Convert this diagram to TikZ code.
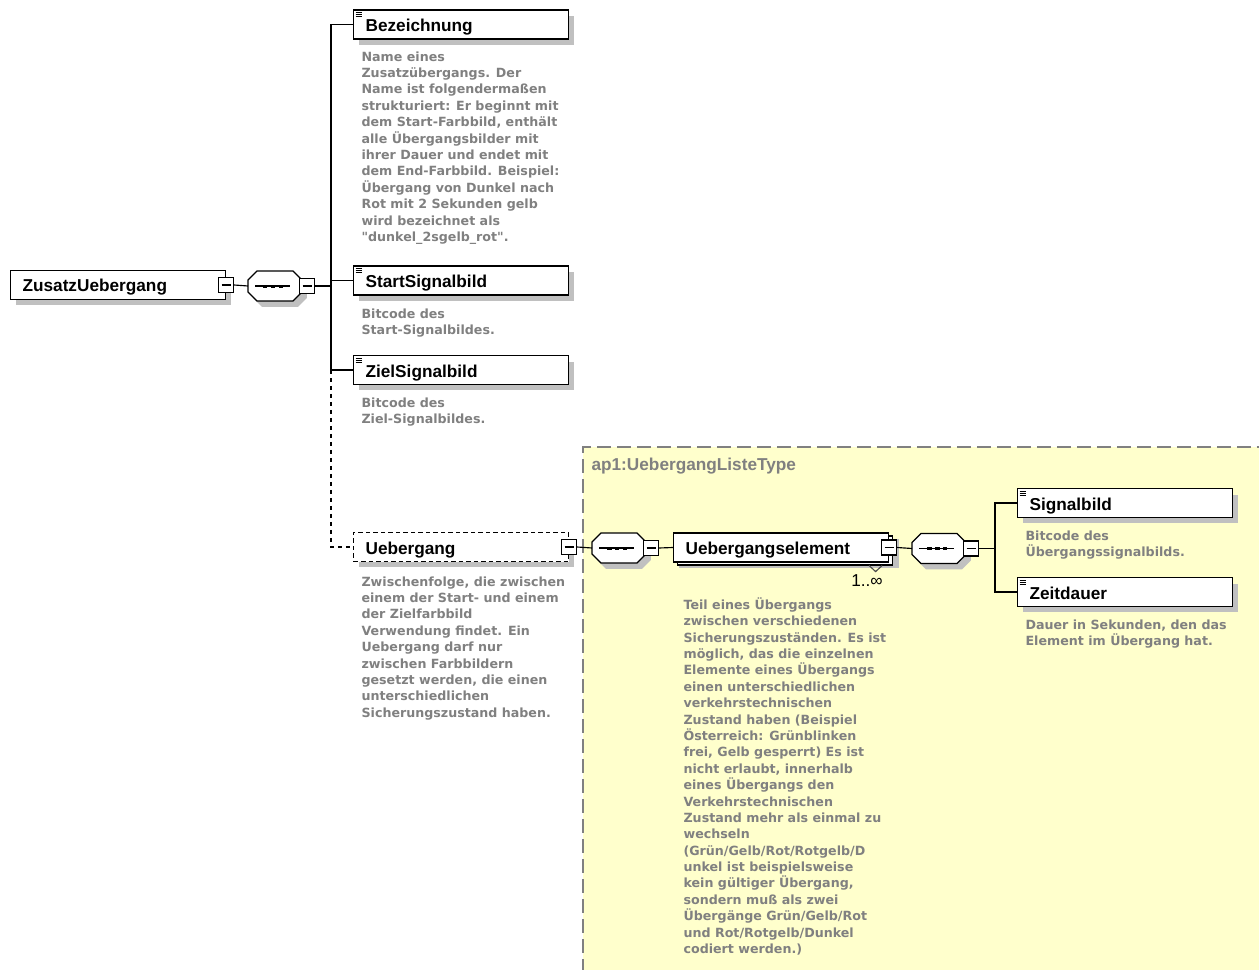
\documentclass[tikz,border=0pt]{standalone}
\usepackage{fontspec}
\usetikzlibrary{shadows}
\newfontfamily\hdfont{Liberation Sans}
\newfontfamily\docfont{DejaVu Sans}
\definecolor{docgray}{RGB}{128,128,128}
\definecolor{shadegray}{RGB}{192,192,192}
\definecolor{typeyellow}{RGB}{255,255,204}
\newcommand\octpath[3]{([xshift=#2+0.18cm,yshift=#3]#1.north west) -- ([xshift=#2-0.18cm,yshift=#3]#1.north east)
  -- ([xshift=#2,yshift=#3-0.18cm]#1.north east) -- ([xshift=#2,yshift=#3+0.18cm]#1.south east)
  -- ([xshift=#2-0.18cm,yshift=#3]#1.south east) -- ([xshift=#2+0.18cm,yshift=#3]#1.south west)
  -- ([xshift=#2,yshift=#3+0.18cm]#1.south west) -- ([xshift=#2,yshift=#3-0.18cm]#1.north west) -- cycle}
\begin{document}
\begin{tikzpicture}[x=0.02cm,y=-0.02cm,line width=0.65pt,
  elem/.style={draw,fill=white,anchor=west,minimum height=0.58cm,text width=3.82cm,inner xsep=0.24cm,inner ysep=0,
    text height=0.3cm,text depth=0.02cm,
    font=\hdfont\bfseries\fontsize{9.8}{11}\selectfont,drop shadow={shadow xshift=0.1cm,shadow yshift=-0.12cm,opacity=1,fill=shadegray}},
  many/.style={drop shadow={shadow xshift=0.2cm,shadow yshift=-0.12cm,opacity=1,fill=shadegray},copy shadow={shadow xshift=0.08cm,shadow yshift=-0.06cm,draw,fill=white}},
  doc/.style={anchor=north west,align=left,inner sep=0,text=docgray,font=\docfont\bfseries\fontsize{7.2}{9.33}\selectfont},
  seq/.style={anchor=west,minimum width=1.08cm,minimum height=0.6cm,inner sep=0,outer sep=0},
  fold/.style={draw,fill=white,minimum size=0.3cm,inner sep=0,
    path picture={\draw ([xshift=0.06cm]path picture bounding box.west) -- ([xshift=-0.06cm]path picture bounding box.east);}}]
\useasboundingbox (0,0) rectangle (1259,970);
\fill[typeyellow] (583,447) rectangle (1262,973);
\draw[docgray,dash pattern=on 0.28cm off 0.12cm] (583,973) -- (583,447) -- (1262,447);
\node[anchor=west,inner sep=0,text=docgray,font=\hdfont\bfseries\fontsize{9.8}{11}\selectfont] (tname) at (591,466) {ap1:UebergangListeType};

\node[elem] (root) at (10,285) {ZusatzUebergang};
\node[fold] (r1) at (root.east) {};
\node[seq] (seq1) at (248,286) {};
\coordinate (j1) at (331,286);

\node[elem] (bez) at (353,24.5) {Bezeichnung};
\node[doc] (dbez) at (361,51) {Name eines\\Zusatzübergangs. Der\\Name ist folgendermaßen\\strukturiert: Er beginnt mit\\dem Start-Farbbild, enthält\\alle Übergangsbilder mit\\ihrer Dauer und endet mit\\dem End-Farbbild. Beispiel:\\Übergang von Dunkel nach\\Rot mit 2 Sekunden gelb\\wird bezeichnet als\\"dunkel\_2sgelb\_rot".};
\node[elem] (start) at (353,280.5) {StartSignalbild};
\node[doc] (dstart) at (361,308) {Bitcode des\\Start-Signalbildes.};
\node[elem] (ziel) at (353,370) {ZielSignalbild};
\node[doc] (dziel) at (361,397) {Bitcode des\\Ziel-Signalbildes.};
\node[elem,dash pattern=on 0.09cm off 0.06cm] (ueb) at (353,547) {Uebergang};
\node[fold] (u1) at (ueb.east) {};
\node[doc] (dueb) at (361,576) {Zwischenfolge, die zwischen\\einem der Start- und einem\\der Zielfarbbild\\Verwendung findet. Ein\\Uebergang darf nur\\zwischen Farbbildern\\gesetzt werden, die einen\\unterschiedlichen\\Sicherungszustand haben.};

\node[seq] (seq2) at (592,548) {};
\node[elem,many] (elem) at (673,547.5) {Uebergangselement};
\node[fold] (e1) at (elem.east) {};
\draw[black!70] ([xshift=-0.4cm,yshift=-0.06cm]elem.south east) -- ([xshift=-0.27cm,yshift=-0.18cm]elem.south east) -- ([xshift=-0.14cm,yshift=-0.06cm]elem.south east);
\node[inner sep=0,font=\hdfont\fontsize{9.8}{11}\selectfont] (mult) at (867,581) {1..∞};
\node[doc] (delem) at (683,597) {Teil eines Übergangs\\zwischen verschiedenen\\Sicherungszuständen. Es ist\\möglich, das die einzelnen\\Elemente eines Übergangs\\einen unterschiedlichen\\verkehrstechnischen\\Zustand haben (Beispiel\\Österreich: Grünblinken\\frei, Gelb gesperrt) Es ist\\nicht erlaubt, innerhalb\\eines Übergangs den\\Verkehrstechnischen\\Zustand mehr als einmal zu\\wechseln\\(Grün/Gelb/Rot/Rotgelb/D\\unkel ist beispielsweise\\kein gültiger Übergang,\\sondern muß als zwei\\Übergänge Grün/Gelb/Rot\\und Rot/Rotgelb/Dunkel\\codiert werden.)};

\node[seq] (seq3) at (912,548.5) {};
\coordinate (j2) at (995,548.5);
\node[elem] (sig) at (1017,503) {Signalbild};
\node[doc] (dsig) at (1025,530) {Bitcode des\\Übergangssignalbilds.};
\node[elem] (zeit) at (1017,592) {Zeitdauer};
\node[doc] (dzeit) at (1025,619) {Dauer in Sekunden, den das\\Element im Übergang hat.};

\foreach \e in {bez,start,ziel,sig,zeit}
  \foreach \d in {0.06,0.1,0.14}
    \draw[line width=0.4pt] ([xshift=0.05cm,yshift=-\d cm]\e.north west) -- ++(6,0);

\foreach \s in {seq1,seq2,seq3} {
  \fill[shadegray] \octpath{\s}{0.1cm}{-0.12cm};
  \draw[fill=white] \octpath{\s}{0cm}{0cm};
  \draw[line width=0.8pt] ([xshift=0.14cm]\s.west) -- ([xshift=0.84cm]\s.west);
  \foreach \d in {0.3,0.46,0.62}
    \fill ([xshift=\d cm,yshift=0.03cm]\s.west) rectangle ++(4.5,3);
}
\node[fold,anchor=west] (s1) at ([xshift=-0.06cm]seq1.east) {};
\node[fold,anchor=west] (s2) at ([xshift=-0.06cm]seq2.east) {};
\node[fold,anchor=west] (s3) at ([xshift=-0.06cm]seq3.east) {};

\draw (r1.east) -- (seq1.west);
\draw (s1.east) -- (j1) |- (bez.west);
\draw (j1) |- (start.west);
\draw (j1) |- (ziel.west);
\draw[dash pattern=on 0.08cm off 0.08cm] (ziel.west -| j1) |- (ueb.west);
\draw (u1.east) -- (seq2.west);
\draw (s2.east) -- (elem.west);
\draw (e1.east) -- (seq3.west);
\draw (s3.east) -- (j2) |- (sig.west);
\draw (j2) |- (zeit.west);
\end{tikzpicture}
\end{document}
